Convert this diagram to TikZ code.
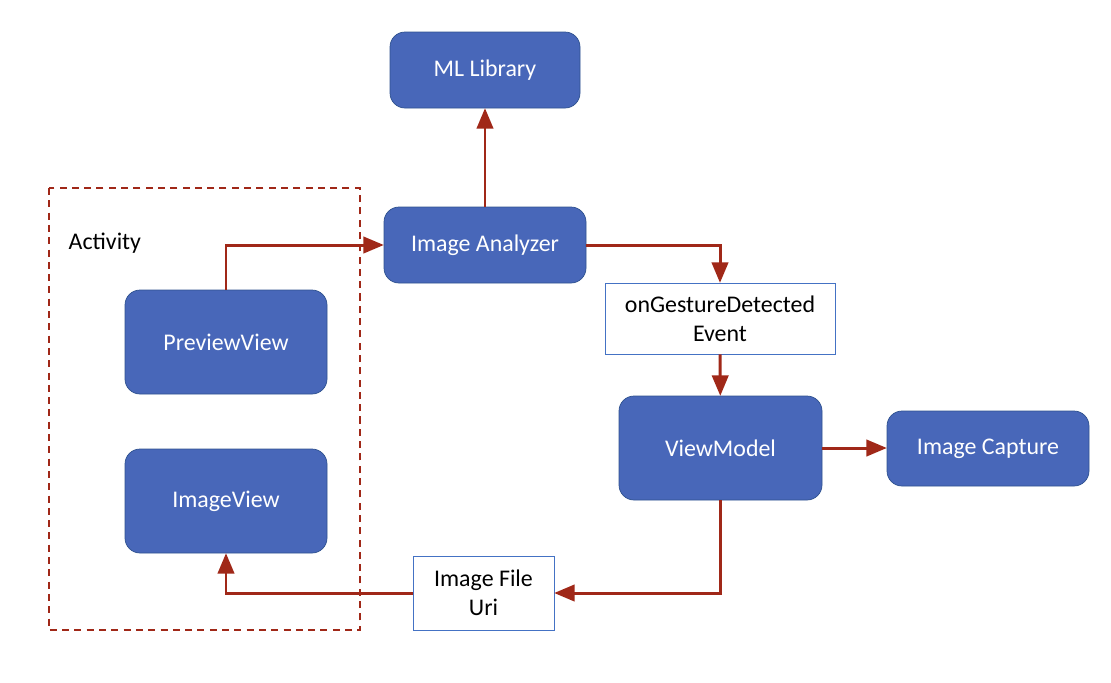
\documentclass[tikz,border=0pt]{standalone}
\usepackage{fontspec}
\setmainfont{Carlito}
\usepackage{tikz}
\usetikzlibrary{arrows,positioning}
\usetikzlibrary{calc,fit,shapes,backgrounds}

\begin{document}
\begin{tikzpicture}
\definecolor{box fill}{RGB}{72,103,185}
\definecolor{box edge}{RGB}{47,82,143}
\definecolor{event edge}{RGB}{68,114,196}
\definecolor{flow}{RGB}{160,40,24}
\tikzset{
     block/.style={fill=box fill, draw=box edge, rounded corners=0.3cm, text=white, inner sep=0pt, font=\fontsize{13.6}{16.5}\selectfont},
     event/.style={fill=white, draw=event edge, thin, inner sep=0pt, align=center, font=\fontsize{13.6}{16.5}\selectfont},
     flowline/.style={draw=flow, line width=1.7pt, -triangle 45}}

\useasboundingbox (0,0) rectangle (22.22,-13.64);

% The boxes
\node (mllib)    [block, minimum width=3.8cm,  minimum height=1.52cm] at (9.70,-1.40)  {ML Library};
\node (analyzer) [block, minimum width=4.04cm, minimum height=1.52cm] at (9.70,-4.90)  {Image Analyzer};
\node (gesture)  [event, minimum width=4.6cm,  minimum height=1.42cm] at (14.40,-6.37) {onGestureDetected\\Event};
\node (viewmodel)[block, minimum width=4.06cm, minimum height=2.08cm] at (14.41,-8.96) {ViewModel};
\node (capture)  [block, minimum width=4.04cm, minimum height=1.5cm]  at (19.76,-8.97) {Image Capture};
\node (preview)  [block, minimum width=4.04cm, minimum height=2.08cm] at (4.52,-6.84)  {PreviewView};
\node (imageview)[block, minimum width=4.04cm, minimum height=2.08cm] at (4.52,-10.02) {ImageView};
\node (fileuri)  [event, minimum width=2.82cm, minimum height=1.48cm] at (9.67,-11.86) {Image File\\Uri};

% The activity frame
\draw [flow, dashed, thick, dash pattern=on 4pt off 3pt] (0.98,-3.76) rectangle (7.20,-12.60);
\node (activity) [anchor=west, font=\fontsize{13.6}{16.5}\selectfont] at (1.25,-4.86) {Activity};

% The arrows
\draw [flowline] (analyzer) -- (mllib);
\draw [flowline] (preview.north) |- (analyzer.west);
\draw [flowline] (analyzer.east) -| (gesture.north);
\draw [flowline] (gesture) -- (viewmodel);
\draw [flowline] (viewmodel.east) -- (capture.west |- viewmodel.east);
\draw [flowline] (viewmodel.south) |- (fileuri.east);
\draw [flowline] (fileuri.west) -| (imageview.south);
\end{tikzpicture}
\end{document}
